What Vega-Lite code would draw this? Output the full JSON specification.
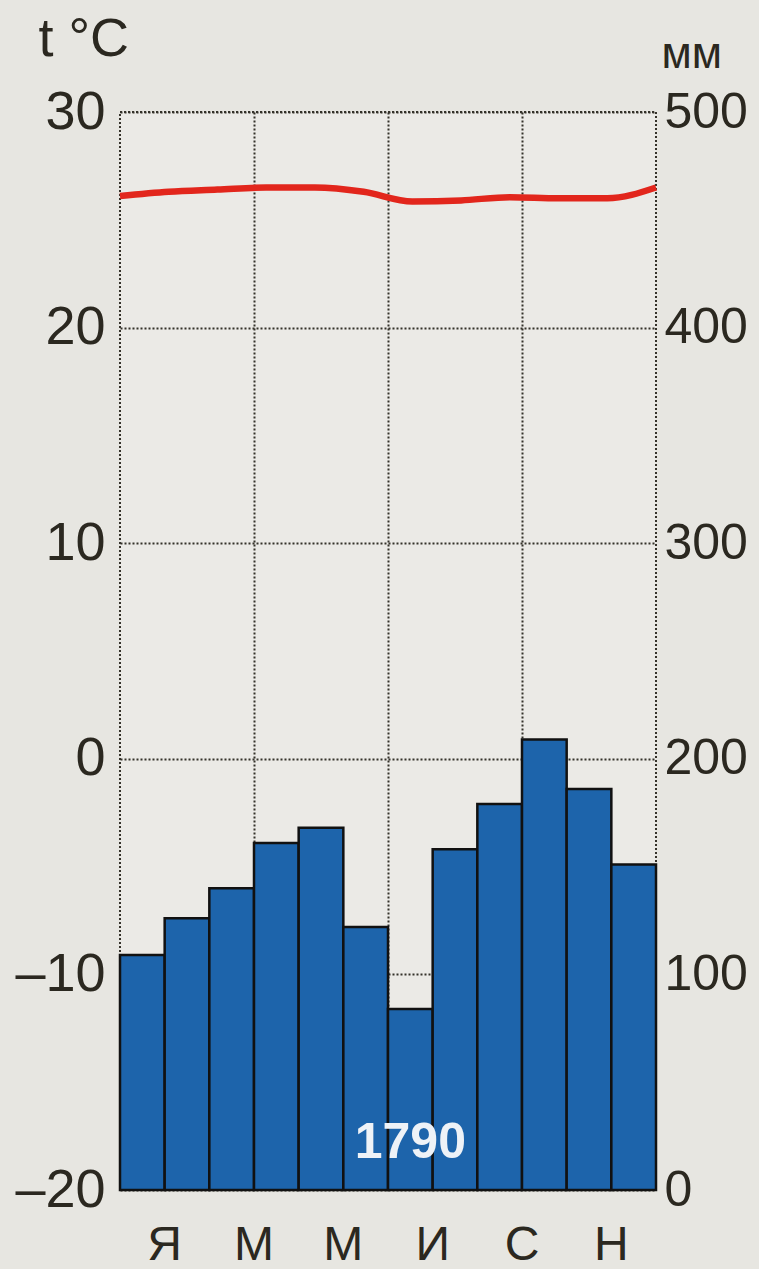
{
  "$schema": "https://vega.github.io/schema/vega-lite/v6.json",
  "width": 536,
  "height": 1078,
  "autosize": {"type": "none"},
  "padding": {"left": 120, "top": 112, "right": 103, "bottom": 79},
  "background": "#e7e6e1",
  "config": {
    "view": {"stroke": "#35322a", "strokeWidth": 2, "strokeDash": [2, 2], "fill": "#ebeae6"},
    "font": "Liberation Sans",
    "axis": {"labelFont": "Liberation Sans", "titleFont": "Liberation Sans", "labelColor": "#2b2820", "titleColor": "#2b2820"}
  },
  "data": {
    "values": [
      {"month": "Январь", "mm": 109, "t": 26.1},
      {"month": "Февраль", "mm": 126, "t": 26.3},
      {"month": "Март", "mm": 140, "t": 26.4},
      {"month": "Апрель", "mm": 161, "t": 26.5},
      {"month": "Май", "mm": 168, "t": 26.5},
      {"month": "Июнь", "mm": 122, "t": 26.3},
      {"month": "Июль", "mm": 84, "t": 25.85},
      {"month": "Август", "mm": 158, "t": 25.9},
      {"month": "Сентябрь", "mm": 179, "t": 26.05},
      {"month": "Октябрь", "mm": 209, "t": 26.0},
      {"month": "Ноябрь", "mm": 186, "t": 26.0},
      {"month": "Декабрь", "mm": 151, "t": 26.5}
    ]
  },
  "layer": [
    {
      "mark": {"type": "bar", "fill": "#1d64ab", "stroke": "#111111", "strokeWidth": 2.5},
      "encoding": {
        "x": {
          "field": "month", "type": "nominal", "sort": null,
          "scale": {"domain": ["Январь","Февраль","Март","Апрель","Май","Июнь","Июль","Август","Сентябрь","Октябрь","Ноябрь","Декабрь"], "paddingInner": 0, "paddingOuter": 0},
          "axis": {
            "orient": "bottom",
            "title": null, "bandPosition": 0, "labelOffset": 22.3, "labelAngle": 0,
            "labelExpr": "indexof(['Январь','Март','Май','Июль','Сентябрь','Ноябрь'], datum.value) >= 0 ? substring(datum.value, 0, 1) : ''",
            "labelFontSize": 48, "labelPadding": 31, "labelBaseline": "top",
            "ticks": false, "domain": false,
            "grid": true, "gridColor": "#35322a", "gridDash": [2, 2], "gridWidth": 2,
            "gridOpacity": {"condition": {"test": "indexof(['Апрель','Июль','Октябрь'], datum.value) >= 0", "value": 1}, "value": 0}
          }
        },
        "y": {
          "field": "mm", "type": "quantitative",
          "scale": {"domain": [0, 500], "nice": false},
          "axis": {
            "orient": "right", "values": [0, 100, 200, 300, 400, 500], "grid": false, "ticks": false, "domain": false,
            "labelFontSize": 50, "labelPadding": 8,
            "title": "мм", "titleAngle": 0, "titleX": 5, "titleY": -45, "titleAlign": "left", "titleBaseline": "alphabetic",
            "titleFontSize": 44, "titleFontWeight": "normal"
          }
        }
      }
    },
    {
      "data": {"values": [{"total": "1790"}]},
      "mark": {"type": "text", "color": "#eef2f7", "fontSize": 50, "fontWeight": "bold", "font": "Liberation Sans"},
      "encoding": {
        "x": {"datum": "Июль", "type": "nominal", "scale": {"domain": ["Январь","Февраль","Март","Апрель","Май","Июнь","Июль","Август","Сентябрь","Октябрь","Ноябрь","Декабрь"], "paddingInner": 0, "paddingOuter": 0}, "axis": null},
        "y": {"datum": 22, "type": "quantitative", "scale": {"domain": [0, 500], "nice": false}, "axis": null},
        "text": {"field": "total", "type": "nominal"}
      }
    },
    {
      "mark": {"type": "line", "color": "#e2261c", "strokeWidth": 6.5, "interpolate": "monotone"},
      "encoding": {
        "x": {
          "field": "month", "type": "nominal", "sort": null,
          "scale": {"type": "point", "padding": 0, "domain": ["Январь","Февраль","Март","Апрель","Май","Июнь","Июль","Август","Сентябрь","Октябрь","Ноябрь","Декабрь"]},
          "axis": null
        },
        "y": {
          "field": "t", "type": "quantitative",
          "scale": {"domain": [-20, 30], "nice": false},
          "axis": {
            "orient": "left", "values": [-20, -10, 0, 10, 20, 30],
            "grid": true, "gridColor": "#35322a", "gridDash": [2, 2], "gridWidth": 2,
            "ticks": false, "domain": false,
            "labelFontSize": 54, "labelPadding": 15,
            "labelExpr": "datum.value < 0 ? '–' + abs(datum.value) : datum.label",
            "title": "t °C", "titleAngle": 0, "titleX": -82, "titleY": -57, "titleAlign": "left", "titleBaseline": "alphabetic",
            "titleFontSize": 54, "titleFontWeight": "normal"
          }
        }
      }
    }
  ],
  "resolve": {"scale": {"x": "independent", "y": "independent"}}
}
